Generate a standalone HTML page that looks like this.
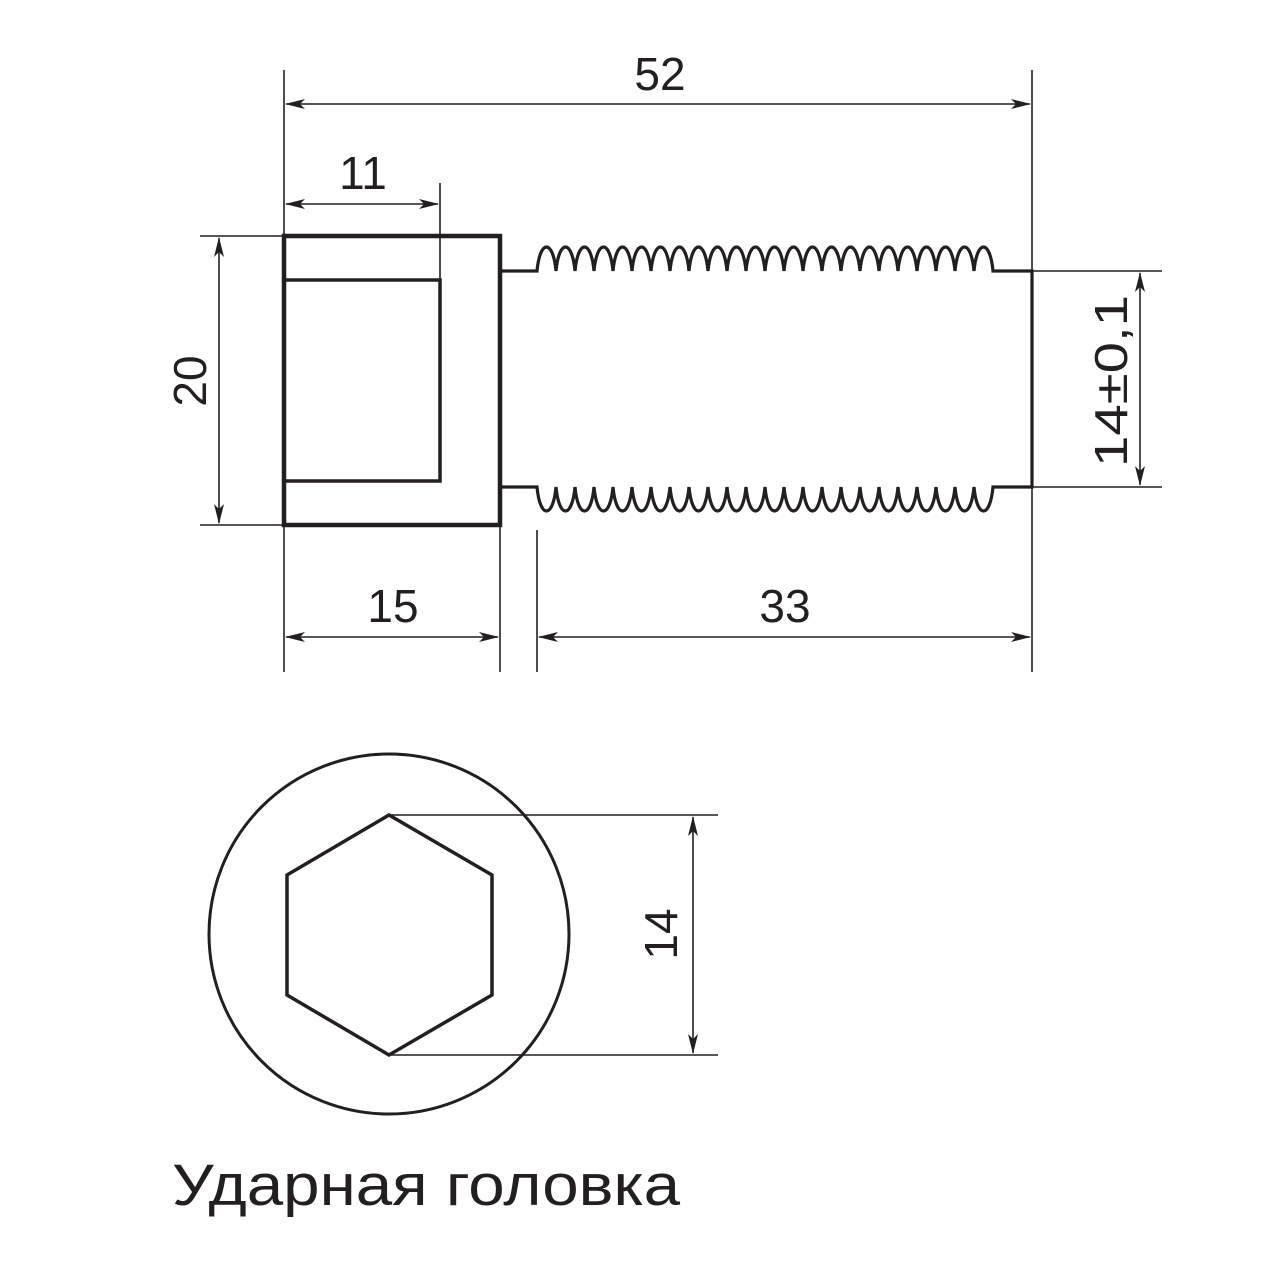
<!DOCTYPE html>
<html><head><meta charset="utf-8"><style>
html,body{margin:0;padding:0;background:#fff;}
svg{display:block;}
text{font-family:"Liberation Sans","DejaVu Sans",sans-serif;fill:#231f20;}
</style></head><body>
<svg width="1280" height="1280" viewBox="0 0 1280 1280" xmlns="http://www.w3.org/2000/svg">
<defs>
<marker id="a" markerWidth="20" markerHeight="10" refX="19" refY="5" orient="auto-start-reverse" markerUnits="userSpaceOnUse">
<path d="M0,0 L20,5 L0,10 L5,5 Z" fill="#231f20"/>
</marker>
</defs>
<g stroke="#231f20" fill="none">
<g stroke-width="1.6">
<line x1="284" y1="70" x2="284" y2="672"/>
<line x1="1032" y1="70" x2="1032" y2="672"/>
<line x1="440" y1="183" x2="440" y2="280"/>
<line x1="500" y1="525" x2="500" y2="672"/>
<line x1="537" y1="530" x2="537" y2="672"/>
<line x1="200" y1="236" x2="284" y2="236"/>
<line x1="200" y1="525" x2="284" y2="525"/>
<line x1="1032" y1="271" x2="1162" y2="271"/>
<line x1="1032" y1="487" x2="1162" y2="487"/>
<line x1="389" y1="815" x2="718" y2="815"/>
<line x1="389" y1="1055" x2="718" y2="1055"/>
</g>
<g stroke-width="1.6" marker-start="url(#a)" marker-end="url(#a)">
<line x1="286" y1="104" x2="1030" y2="104"/>
<line x1="286" y1="204" x2="438" y2="204"/>
<line x1="219" y1="238" x2="219" y2="523"/>
<line x1="286" y1="637" x2="498" y2="637"/>
<line x1="539" y1="637" x2="1030" y2="637"/>
<line x1="1140" y1="273" x2="1140" y2="485"/>
<line x1="693" y1="817" x2="693" y2="1053"/>
</g>
<rect x="284" y="236" width="216" height="289" stroke-width="4.5"/>
<path d="M284 280 H440 V481 H284" stroke-width="3.5"/>
<path stroke-width="3.2" d="M500 271 H537 c3,-32 16,-32 19,0 c3,-32 16,-32 19,0 c3,-32 16,-32 19,0 c3,-32 16,-32 19,0 c3,-32 16,-32 19,0 c3,-32 16,-32 19,0 c3,-32 16,-32 19,0 c3,-32 16,-32 19,0 c3,-32 16,-32 19,0 c3,-32 16,-32 19,0 c3,-32 16,-32 19,0 c3,-32 16,-32 19,0 c3,-32 16,-32 19,0 c3,-32 16,-32 19,0 c3,-32 16,-32 19,0 c3,-32 16,-32 19,0 c3,-32 16,-32 19,0 c3,-32 16,-32 19,0 c3,-32 16,-32 19,0 c3,-32 16,-32 19,0 c3,-32 16,-32 19,0 c3,-32 16,-32 19,0 c3,-32 16,-32 19,0 c3,-32 16,-32 19,0 H1032 V487 H993 c-3,32 -16,32 -19,0 c-3,32 -16,32 -19,0 c-3,32 -16,32 -19,0 c-3,32 -16,32 -19,0 c-3,32 -16,32 -19,0 c-3,32 -16,32 -19,0 c-3,32 -16,32 -19,0 c-3,32 -16,32 -19,0 c-3,32 -16,32 -19,0 c-3,32 -16,32 -19,0 c-3,32 -16,32 -19,0 c-3,32 -16,32 -19,0 c-3,32 -16,32 -19,0 c-3,32 -16,32 -19,0 c-3,32 -16,32 -19,0 c-3,32 -16,32 -19,0 c-3,32 -16,32 -19,0 c-3,32 -16,32 -19,0 c-3,32 -16,32 -19,0 c-3,32 -16,32 -19,0 c-3,32 -16,32 -19,0 c-3,32 -16,32 -19,0 c-3,32 -16,32 -19,0 c-3,32 -16,32 -19,0 H500"/>
<circle cx="389" cy="934" r="180" stroke-width="3"/>
<polygon points="389,815 492,875 492,995 389,1055 287,995 287,875" stroke-width="3.5"/>
</g>
<g font-size="46" text-anchor="middle">
<text x="660" y="90">52</text>
<text x="363" y="189">11</text>
<text x="393" y="622">15</text>
<text x="785" y="622">33</text>
<text transform="translate(206,381) rotate(-90)">20</text>
<text transform="translate(1127,381) rotate(-90)" textLength="172" lengthAdjust="spacingAndGlyphs">14±0,1</text>
<text transform="translate(677,934) rotate(-90)">14</text>
</g>
<text x="172" y="1205" font-size="58" textLength="508" lengthAdjust="spacingAndGlyphs">Ударная головка</text>
</svg>
</body></html>
